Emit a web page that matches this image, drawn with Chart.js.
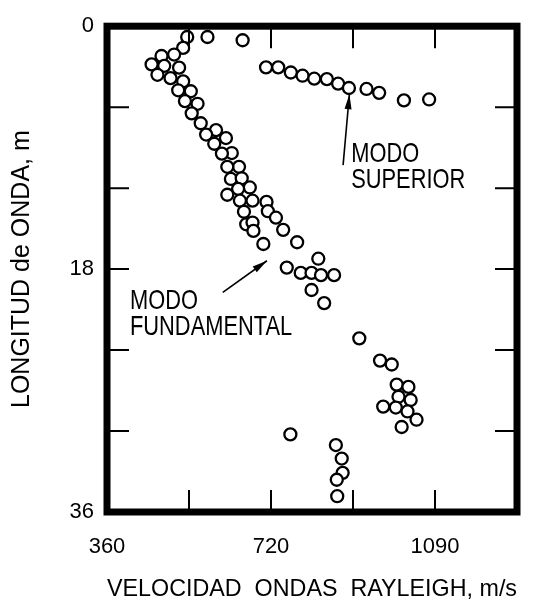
<!DOCTYPE html>
<html>
<head>
<meta charset="utf-8">
<script src="https://cdn.jsdelivr.net/npm/chart.js@4.4.0/dist/chart.umd.min.js"></script>
<style>
  body { margin: 0; background: #fff; }
  canvas { display: block; }
</style>
</head>
<body>
<canvas id="grafico" width="546" height="610"></canvas>
<script>
// Etiquetas de los ejes (una por marca, en orden de valor)
const xTickLabels = ['360', '', '720', '', '1090', ''];
const yTickLabels = ['0', '', '', '18', '', '', '36'];

// Modo fundamental: velocidad (m/s) y longitud de onda (m)
const fundamentalVel = [538, 583, 661, 529, 509, 481, 459, 487, 520, 472, 501, 529, 518, 546, 533, 561,
  548, 568, 602, 580, 624, 598, 637, 615, 653, 627, 635, 659, 677, 651, 627, 655, 683, 714, 717, 664,
  735, 669, 683, 685, 751, 707, 782, 759, 829, 790, 814, 835, 864, 814, 842, 920, 966, 992, 1003, 1029,
  1007, 1034, 973, 1001, 1027, 1047, 1014, 767, 868, 881, 883, 870, 871];
const fundamentalLong = [0.80, 0.80, 1.04, 1.61, 2.10, 2.21, 2.83, 2.94, 3.07, 3.60, 3.85, 4.09, 4.75, 4.82, 5.55, 5.75,
  6.46, 7.19, 7.70, 8.03, 8.29, 8.71, 9.40, 9.44, 10.42, 10.42, 11.32, 11.27, 11.95, 12.05, 12.49, 12.93, 12.93, 13.02, 13.71, 13.75,
  14.19, 14.68, 14.55, 15.17, 15.09, 16.14, 16.01, 17.89, 17.23, 18.28, 18.28, 18.45, 18.45, 19.55, 20.52, 23.13, 24.78, 25.07, 26.56, 26.73,
  27.46, 27.70, 28.19, 28.26, 28.55, 29.16, 29.70, 30.25, 31.04, 32.04, 33.10, 33.61, 34.83];

// Modo superior
const superiorVel = [713, 740, 768, 794, 820, 848, 873, 897, 936, 964, 1019, 1075];
const superiorLong = [3.05, 3.05, 3.43, 3.67, 3.89, 3.92, 4.26, 4.58, 4.65, 4.94, 5.50, 5.43];

// Rótulos y flechas (en unidades de los ejes)
const rotulos = [
  { lineas: ['MODO', 'SUPERIOR'], x: 902, y: [10.08, 11.98] },
  { lineas: ['MODO', 'FUNDAMENTAL'], x: 411, y: [20.96, 22.86] }
];
const flechas = [
  { desde: [884, 10.3], hasta: [898, 5.04] },
  { desde: [617, 19.72], hasta: [715, 17.38] }
];

function puntos(xs, ys) {
  return xs.map((v, i) => ({ x: v, y: ys[i] }));
}

// Marco grueso, marcas interiores, rótulos y flechas
const marcoPlugin = {
  id: 'marco',
  afterDatasetsDraw(chart) {
    const ctx = chart.ctx;
    const a = chart.chartArea;
    const sx = chart.scales.x;
    const sy = chart.scales.y;
    ctx.save();
    ctx.strokeStyle = '#000';
    ctx.lineWidth = 2;
    sx.ticks.forEach(t => {
      if (t.value === sx.min || t.value === sx.max) return;
      const px = sx.getPixelForValue(t.value);
      ctx.beginPath();
      ctx.moveTo(px, a.top); ctx.lineTo(px, a.top + 22);
      ctx.moveTo(px, a.bottom); ctx.lineTo(px, a.bottom - 22);
      ctx.stroke();
    });
    sy.ticks.forEach(t => {
      if (t.value === sy.min || t.value === sy.max) return;
      const py = sy.getPixelForValue(t.value);
      ctx.beginPath();
      ctx.moveTo(a.left, py); ctx.lineTo(a.left + 22, py);
      ctx.moveTo(a.right, py); ctx.lineTo(a.right - 22, py);
      ctx.stroke();
    });
    ctx.lineWidth = 7;
    ctx.strokeRect(a.left, a.top, a.right - a.left, a.bottom - a.top);

    // flechas
    ctx.lineWidth = 1.6;
    ctx.fillStyle = '#000';
    flechas.forEach(f => {
      const x0 = sx.getPixelForValue(f.desde[0]), y0 = sy.getPixelForValue(f.desde[1]);
      const x1 = sx.getPixelForValue(f.hasta[0]), y1 = sy.getPixelForValue(f.hasta[1]);
      const ang = Math.atan2(y1 - y0, x1 - x0);
      ctx.beginPath();
      ctx.moveTo(x0, y0); ctx.lineTo(x1, y1);
      ctx.stroke();
      ctx.beginPath();
      ctx.moveTo(x1, y1);
      ctx.lineTo(x1 - 15 * Math.cos(ang) + 3.5 * Math.sin(ang), y1 - 15 * Math.sin(ang) - 3.5 * Math.cos(ang));
      ctx.lineTo(x1 - 15 * Math.cos(ang) - 3.5 * Math.sin(ang), y1 - 15 * Math.sin(ang) + 3.5 * Math.cos(ang));
      ctx.closePath();
      ctx.fill();
    });

    // rótulos
    ctx.font = '28px "Liberation Sans", Arial, sans-serif';
    ctx.textBaseline = 'alphabetic';
    ctx.textAlign = 'left';
    rotulos.forEach(r => {
      const px = sx.getPixelForValue(r.x);
      r.lineas.forEach((txt, i) => {
        ctx.save();
        ctx.translate(px, sy.getPixelForValue(r.y[i]));
        ctx.scale(0.78, 1);
        ctx.fillText(txt, 0, 0);
        ctx.restore();
      });
    });
    ctx.restore();
  }
};

const estiloPunto = {
  showLine: false,
  pointStyle: 'circle',
  pointRadius: 6,
  pointBorderWidth: 2.3,
  pointBackgroundColor: '#fff',
  pointBorderColor: '#000'
};

new Chart(document.getElementById('grafico'), {
  type: 'scatter',
  data: {
    datasets: [
      Object.assign({ label: 'Modo fundamental', data: puntos(fundamentalVel, fundamentalLong) }, estiloPunto),
      Object.assign({ label: 'Modo superior', data: puntos(superiorVel, superiorLong) }, estiloPunto)
    ]
  },
  options: {
    responsive: false,
    animation: false,
    layout: { padding: { left: 0, right: 29, top: 19, bottom: 0 } },
    plugins: { legend: { display: false }, tooltip: { enabled: false } },
    scales: {
      x: {
        type: 'linear',
        min: 360,
        max: 1270,
        grid: { display: false, drawTicks: false },
        border: { display: false },
        ticks: {
          stepSize: 182,
          autoSkip: false,
          maxRotation: 0,
          padding: 22,
          color: '#000',
          font: { family: '"Liberation Sans", Arial, sans-serif', size: 22 },
          callback: v => xTickLabels[Math.round((v - 360) / 182)]
        },
        title: {
          display: true,
          text: 'VELOCIDAD  ONDAS  RAYLEIGH, m/s',
          color: '#000',
          font: { family: '"Liberation Sans", Arial, sans-serif', size: 24 },
          padding: { top: 0, bottom: 6 }
        },
        afterFit: s => { s.height = 98; }
      },
      y: {
        type: 'linear',
        reverse: true,
        min: 0,
        max: 36,
        grid: { display: false, drawTicks: false },
        border: { display: false },
        ticks: {
          stepSize: 6,
          autoSkip: false,
          padding: 13,
          color: '#000',
          font: { family: '"Liberation Sans", Arial, sans-serif', size: 22 },
          callback: v => yTickLabels[Math.round(v / 6)]
        },
        title: {
          display: true,
          text: 'LONGITUD de ONDA, m',
          color: '#000',
          font: { family: '"Liberation Sans", Arial, sans-serif', size: 25 },
          padding: { top: 7, bottom: 0 }
        },
        afterFit: s => { s.width = 107; }
      }
    }
  },
  plugins: [marcoPlugin]
});
</script>
</body>
</html>
